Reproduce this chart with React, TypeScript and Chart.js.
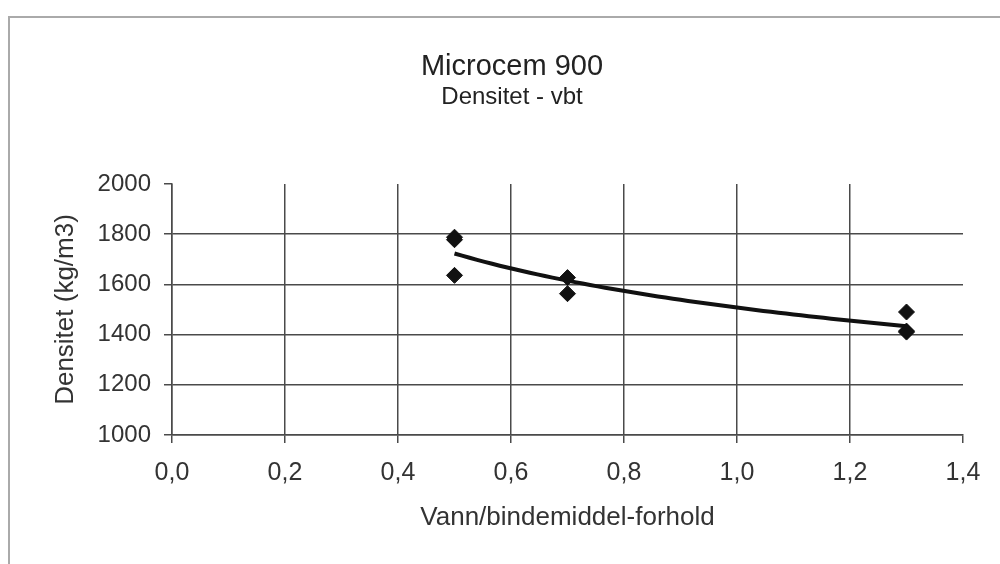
import React, { useEffect, useRef } from "react";
import { Chart, registerables } from "chart.js";

Chart.register(...registerables);

const titleText = "Microcem 900";
const subtitleText = "Densitet - vbt";
const xAxisTitle = "Vann/bindemiddel-forhold";
const yAxisTitle = "Densitet (kg/m3)";

const xValues = [0.5, 0.5, 0.5, 0.7, 0.7, 1.3, 1.3, 1.3];
const yValues = [1788, 1778, 1636, 1627, 1563, 1490, 1414, 1410];

const xMin = 0;
const xMax = 1.4;
const xStep = 0.2;
const yMin = 1000;
const yMax = 2000;
const yStep = 200;

// power trendline (least squares on log-log), as in the original spreadsheet
function powerFit(xs: number[], ys: number[]) {
  const lx = xs.map(Math.log);
  const ly = ys.map(Math.log);
  const n = xs.length;
  const mx = lx.reduce((a, b) => a + b, 0) / n;
  const my = ly.reduce((a, b) => a + b, 0) / n;
  let sxy = 0;
  let sxx = 0;
  for (let i = 0; i < n; i++) {
    sxy += (lx[i] - mx) * (ly[i] - my);
    sxx += (lx[i] - mx) * (lx[i] - mx);
  }
  const b = sxy / sxx;
  const a = Math.exp(my - b * mx);
  return { a, b };
}

const FONT = "'Liberation Sans', Arial, sans-serif";

const titlePlugin = {
  id: "fixedTitles",
  afterDraw(chart: any) {
    const ctx = chart.ctx;
    ctx.save();
    ctx.fillStyle = "#222222";
    ctx.textAlign = "center";
    ctx.textBaseline = "alphabetic";
    ctx.font = `29px ${FONT}`;
    ctx.fillText(titleText, 512, 75);
    ctx.font = `24px ${FONT}`;
    ctx.fillText(subtitleText, 512, 104);
    ctx.restore();
  },
};

export default function App() {
  const ref = useRef<HTMLCanvasElement | null>(null);

  useEffect(() => {
    if (!ref.current) return;
    const { a, b } = powerFit(xValues, yValues);
    const lo = Math.min(...xValues);
    const hi = Math.max(...xValues);
    const trend: { x: number; y: number }[] = [];
    const steps = 60;
    for (let i = 0; i <= steps; i++) {
      const x = lo + ((hi - lo) * i) / steps;
      trend.push({ x, y: a * Math.pow(x, b) });
    }
    const gridCol = "#4a4a4a";
    const chart = new Chart(ref.current, {
      type: "scatter",
      data: {
        datasets: [
          {
            label: "data",
            data: xValues.map((x, i) => ({ x, y: yValues[i] })),
            pointStyle: "rectRot",
            pointRadius: 8,
            backgroundColor: "#111111",
            borderColor: "#111111",
            borderWidth: 1,
            showLine: false,
            order: 1,
          },
          {
            label: "trend",
            data: trend,
            showLine: true,
            pointRadius: 0,
            borderColor: "#111111",
            borderWidth: 4,
            fill: false,
            order: 2,
          },
        ],
      },
      plugins: [titlePlugin],
      options: {
        animation: false,
        responsive: false,
        maintainAspectRatio: false,
        layout: { padding: { left: 0, right: 37, top: 184, bottom: 0 } },
        plugins: {
          legend: { display: false },
          tooltip: { enabled: false },
          title: { display: false },
        },
        scales: {
          x: {
            type: "linear",
            min: xMin,
            max: xMax,
            afterFit: (s: any) => {
              s.height = 129;
            },
            ticks: {
              stepSize: xStep,
              color: "#333333",
              font: { family: FONT, size: 25 },
              padding: 15,
              maxRotation: 0,
              callback: (v: any) => Number(v).toFixed(1).replace(".", ","),
            },
            grid: {
              color: (c: any) =>
                c.tick && Math.abs(c.tick.value - xMax) < 1e-9 ? "rgba(0,0,0,0)" : gridCol,
              lineWidth: 1.5,
              tickColor: gridCol,
              tickLength: 8,
            },
            border: { display: true, color: gridCol, width: 1.5 },
            title: {
              display: true,
              text: xAxisTitle,
              color: "#333333",
              font: { family: FONT, size: 26 },
              padding: { top: 0, bottom: 31 },
            },
          },
          y: {
            type: "linear",
            min: yMin,
            max: yMax,
            afterFit: (s: any) => {
              s.width = 172;
            },
            ticks: {
              stepSize: yStep,
              color: "#333333",
              font: { family: FONT, size: 24 },
              padding: 13,
              callback: (v: any) => String(v),
            },
            grid: {
              color: (c: any) =>
                c.tick && Math.abs(c.tick.value - yMax) < 1e-9 ? "rgba(0,0,0,0)" : gridCol,
              lineWidth: 1.5,
              tickColor: gridCol,
              tickLength: 8,
            },
            border: { display: true, color: gridCol, width: 1.5 },
            title: {
              display: true,
              text: yAxisTitle,
              color: "#333333",
              font: { family: FONT, size: 26 },
              padding: { top: 50, bottom: 0 },
            },
          },
        },
      },
    });
    return () => chart.destroy();
  }, []);

  return (
    <div
      style={{
        position: "absolute",
        left: 0,
        top: 0,
        width: 1000,
        height: 564,
        background: "#ffffff",
        overflow: "hidden",
      }}
    >
      <div
        style={{
          position: "absolute",
          left: 8,
          top: 16,
          width: 1000,
          height: 600,
          borderLeft: "2px solid #aaaaaa",
          borderTop: "2px solid #aaaaaa",
        }}
      />
      <canvas
        ref={ref}
        width={1000}
        height={564}
        style={{ position: "absolute", left: 0, top: 0, width: 1000, height: 564 }}
      />
    </div>
  );
}
